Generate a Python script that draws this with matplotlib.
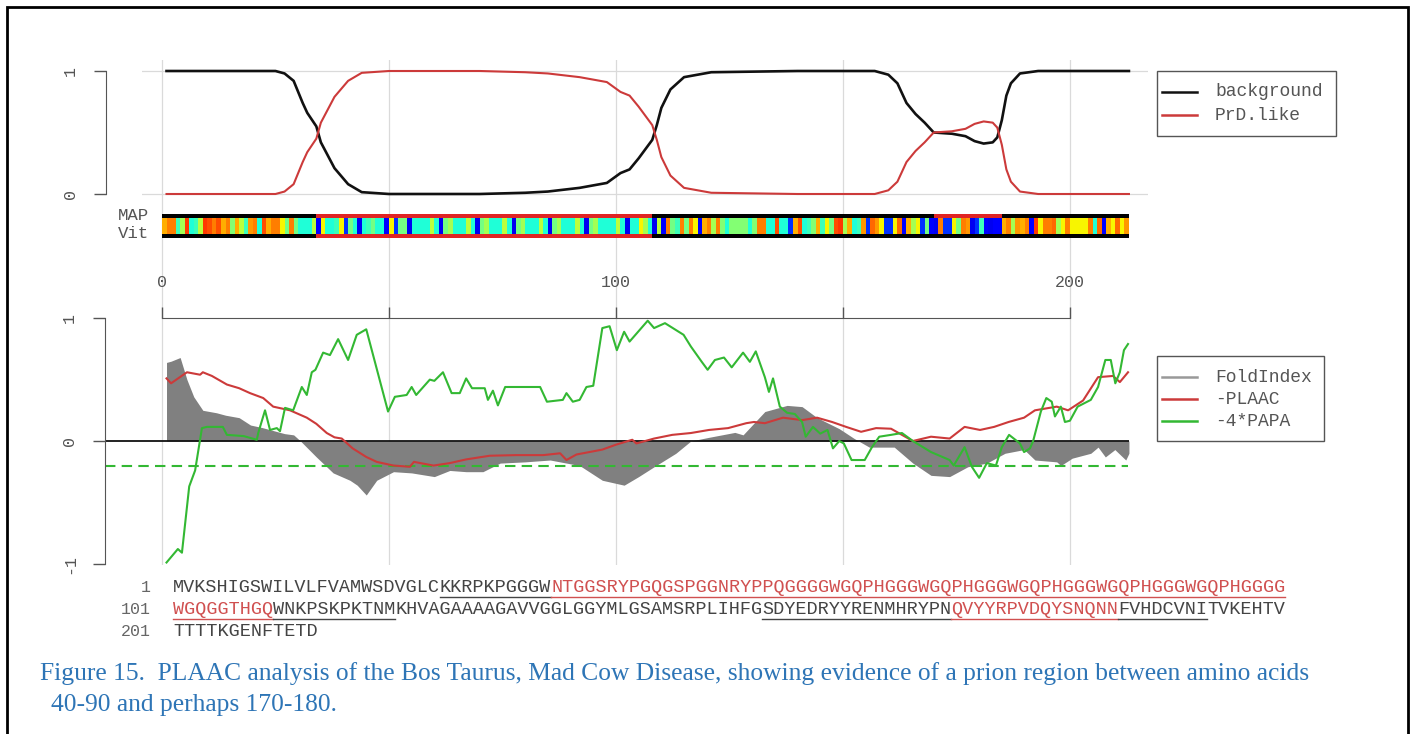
import matplotlib
matplotlib.use('Agg')
import matplotlib.pyplot as plt
import numpy as np
from matplotlib.colors import ListedColormap, Normalize
from matplotlib.lines import Line2D
from matplotlib.patches import Rectangle

plt.rcParams['lines.scale_dashes'] = False

# ---------------- data ----------------
seq_rows = [
    "MVKSHIGSWILVLFVAMWSDVGLCKKRPKPGGGWNTGGSRYPGQGSPGGNRYPPQGGGGWGQPHGGGWGQPHGGGWGQPHGGGWGQPHGGGWGQPHGGGG",
    "WGQGGTHGQWNKPSKPKTNMKHVAGAAAAGAVVGGLGGYMLGSAMSRPLIHFGSDYEDRYYRENMHRYPNQVYYRPVDQYSNQNNFVHDCVNITVKEHTV",
    "TTTTKGENFTETD",
]
row_numbers = ["1", "101", "201"]
red_ranges = [(35, 109), (171, 185)]        # residues shown in red
underline_ranges = [(25, 120), (154, 193)]  # underlined residues
map_prd_ranges = [(35, 108), (171, 185)]    # MAP state = PrD-like
vit_prd_ranges = [(35, 108)]                # Viterbi state = PrD-like

aa_score = {'Q': 0.8, 'N': 0.75, 'Y': 0.65, 'G': 0.22, 'S': 0.15, 'P': 0.02,
            'H': -0.1, 'A': -0.02, 'W': -0.15, 'T': -0.3, 'R': -0.3, 'M': -0.45,
            'F': -0.45, 'C': -0.45, 'D': -0.5, 'K': -0.55, 'E': -0.6, 'V': -0.55,
            'I': -0.7, 'L': -0.65}

top_x = [1, 25, 27, 29, 31, 32, 34, 35, 38, 41, 44, 50, 60, 70, 80, 85, 92, 98, 101, 103,
         105, 108, 109, 110, 112, 115, 121, 140, 157, 160, 162, 164, 166, 168, 170, 174, 177,
         179, 181, 183, 184, 185, 186, 187, 189, 193, 213]
background = [1.0, 1.0, 0.98, 0.92, 0.74, 0.66, 0.55, 0.42, 0.21, 0.08, 0.015, 0.0, 0.0, 0.0,
              0.01, 0.02, 0.05, 0.09, 0.17, 0.2, 0.29, 0.44, 0.56, 0.70, 0.85, 0.95, 0.99, 1.0,
              1.0, 0.97, 0.90, 0.74, 0.65, 0.58, 0.50, 0.49, 0.47, 0.43, 0.41, 0.42, 0.46, 0.60,
              0.80, 0.90, 0.98, 1.0, 1.0]
prd_like = [0.0, 0.0, 0.02, 0.08, 0.26, 0.34, 0.45, 0.58, 0.79, 0.92, 0.985, 1.0, 1.0, 1.0,
            0.99, 0.98, 0.95, 0.91, 0.83, 0.8, 0.71, 0.56, 0.44, 0.30, 0.15, 0.05, 0.01, 0.0,
            0.0, 0.03, 0.10, 0.26, 0.35, 0.42, 0.50, 0.51, 0.53, 0.57, 0.59, 0.58, 0.54, 0.40,
            0.20, 0.10, 0.02, 0.0, 0.0]

fold_x = [1, 2, 4, 5.5, 7, 9, 12, 14, 17, 19.5, 22, 24, 27, 29, 30.5, 34, 37.7, 41.4, 43, 45,
          47.3, 51, 55, 60, 63.4, 67, 70.7, 74.5, 80, 85.5, 92, 97, 101.8, 105, 108.4, 113.2,
          116.5, 120.5, 126.2, 128, 132.8, 137.7, 141, 144.3, 149.2, 152.5, 155.8, 161.3,
          165.4, 169.4, 173.5, 177.5, 181.7, 185.7, 189.9, 192.3, 197.1, 198, 200.5, 204.6,
          206.2, 207.8, 209.9, 212.3, 213]
fold_index = [0.64, 0.65, 0.68, 0.50, 0.36, 0.25, 0.23, 0.21, 0.19, 0.13, 0.11, 0.09, 0.06,
              0.05, 0.0, -0.13, -0.26, -0.32, -0.36, -0.44, -0.32, -0.25, -0.26, -0.29, -0.24,
              -0.25, -0.25, -0.18, -0.17, -0.155, -0.2, -0.32, -0.36, -0.29, -0.21, -0.10, 0.0,
              0.03, 0.07, 0.05, 0.24, 0.29, 0.28, 0.19, 0.10, 0.02, -0.05, -0.05, -0.18, -0.28,
              -0.29, -0.21, -0.18, -0.10, -0.07, -0.155, -0.17, -0.2, -0.14, -0.10, -0.05, -0.13,
              -0.07, -0.155, -0.1]

plaac_x = [1, 2, 5.5, 8.4, 9, 11, 14.3, 17, 19.4, 22.3, 24.5, 28.2, 31.9, 34, 36.3, 38, 39.6,
           42, 45, 47.3, 51, 54.6, 55.5, 59.8, 63.4, 67, 72.2, 78, 84, 87.7, 89.1, 91.3, 97,
           100, 103.6, 104.5, 108.4, 112.4, 116.5, 120.5, 124.7, 128.7, 130.4, 132.8, 136.8,
           141, 144.3, 147.6, 150.7, 154, 157.3, 160.6, 165.4, 169.4, 173.5, 176.8, 180.2,
           183.3, 186.5, 189.9, 192.3, 197.1, 199.6, 202.9, 206.2, 209.5, 211, 212.8]
neg_plaac = [0.51, 0.47, 0.56, 0.54, 0.56, 0.53, 0.46, 0.43, 0.39, 0.35, 0.28, 0.25, 0.19, 0.14,
             0.065, 0.03, 0.02, -0.06, -0.13, -0.17, -0.20, -0.21, -0.17, -0.20, -0.18, -0.15,
             -0.12, -0.115, -0.115, -0.10, -0.155, -0.11, -0.07, -0.03, 0.01, -0.02, 0.02, 0.05,
             0.065, 0.09, 0.105, 0.145, 0.155, 0.145, 0.19, 0.17, 0.19, 0.155, 0.115, 0.075,
             0.105, 0.10, 0.0, 0.035, 0.02, 0.115, 0.09, 0.115, 0.155, 0.19, 0.25, 0.28, 0.25,
             0.33, 0.52, 0.53, 0.48, 0.56]

papa_x = [1, 3.5, 4.4, 6, 7.3, 8.8, 9.9, 13.4, 14.3, 18, 20.9, 21.2, 22.7, 23.8, 25.3, 26, 27.1,
          28.9, 30.8, 31.9, 33, 33.8, 35.5, 37, 38.8, 41, 42.9, 45, 49.8, 51.3, 53.9, 55, 56, 59,
          60, 61.9, 63.8, 65.6, 67, 68.3, 71.1, 71.8, 72.9, 74, 75.6, 83.3, 84.8, 88.3, 89.1,
          90.5, 92, 93.5, 95, 97, 98.6, 100.2, 101.8, 103, 107, 108.4, 110.8, 114.9, 116.5,
          118.9, 120.2, 121.8, 123.8, 125.5, 128, 129.5, 130.8, 132.8, 133.7, 134.6, 136.1,
          137.7, 139.4, 141, 141.8, 143.4, 145, 146.6, 147.8, 149.2, 150.2, 151.9, 154.8, 156.4,
          158, 160.6, 163, 165.4, 169.4, 173.5, 174.4, 176.8, 178.4, 180, 181.7, 183.7, 185,
          186.6, 189, 189.9, 191.2, 191.9, 193.6, 194.8, 196, 196.7, 198, 198.9, 200, 201.7,
          204.6, 206.2, 207.8, 209, 210, 211, 211.9, 212.8]
neg4_papa = [-0.99, -0.88, -0.91, -0.37, -0.24, 0.105, 0.115, 0.115, 0.05, 0.04, 0.01, 0.065,
             0.25, 0.09, 0.105, 0.08, 0.27, 0.25, 0.44, 0.375, 0.56, 0.58, 0.72, 0.70, 0.83, 0.66,
             0.865, 0.91, 0.24, 0.36, 0.375, 0.44, 0.375, 0.5, 0.49, 0.56, 0.39, 0.39, 0.51, 0.43,
             0.43, 0.335, 0.41, 0.29, 0.44, 0.44, 0.32, 0.335, 0.39, 0.32, 0.335, 0.44, 0.45,
             0.92, 0.935, 0.74, 0.89, 0.81, 0.98, 0.92, 0.96, 0.865, 0.77, 0.645, 0.58, 0.66,
             0.68, 0.60, 0.72, 0.645, 0.73, 0.52, 0.40, 0.51, 0.28, 0.23, 0.22, 0.155, 0.035,
             0.115, 0.06, 0.09, -0.06, 0.0, -0.02, -0.155, -0.155, -0.05, 0.035, 0.05, 0.065, 0.0,
             -0.09, -0.155, -0.2, -0.05, -0.21, -0.30, -0.18, -0.2, -0.05, 0.05, -0.02, -0.09,
             -0.06, 0.0, 0.24, 0.35, 0.32, 0.2, 0.28, 0.155, 0.165, 0.28, 0.335, 0.44, 0.66,
             0.66, 0.47, 0.56, 0.74, 0.79]
papa_threshold = -0.2

axis_ticks = [0, 50, 100, 150, 200]
axis_labels = ['0', '', '100', '', '200']

caption_lines = [
    "Figure 15.  PLAAC analysis of the Bos Taurus, Mad Cow Disease, showing evidence of a prion region between amino acids",
    "40-90 and perhaps 170-180.",
]

# ---------------- layout helpers ----------------
W, H = 1413, 734
fig = plt.figure(figsize=(W / 100, H / 100), dpi=100)
fig.patch.set_facecolor('white')


def fx(px):
    return px / W


def fy(py):
    return 1 - py / H


def axrect(l, t, r, b):
    return [fx(l), fy(b), (r - l) / W, (b - t) / H]


XL, XR = 142, 1148
XMIN, XMAX = -4.4, 217.2
GRID = '#dadada'
AXC = '#555555'
TXT = '#555555'
MONO = 'Liberation Mono'
RED = '#CC3A3A'
GREEN = '#33B833'

seq = "".join(seq_rows)
n = len(seq)


def in_ranges(i, ranges):
    return any(a <= i <= b for a, b in ranges)


# vertical grid lines spanning all panels
gax = fig.add_axes(axrect(XL, 60, XR, 565))
gax.set_xlim(XMIN, XMAX)
gax.set_ylim(0, 1)
gax.axis('off')
for v in axis_ticks:
    gax.axvline(v, color=GRID, lw=0.9)

# ---------------- top panel ----------------
tax = fig.add_axes(axrect(XL, 60, XR, 205))
tax.set_facecolor('none')
tax.set_xlim(XMIN, XMAX)
tax.set_ylim(-11 / 123, 1 + 11 / 123)
tax.axhline(0, color=GRID, lw=0.9)
tax.axhline(1, color=GRID, lw=0.9)
tax.plot(top_x, background, color='#111111', lw=1.9)
tax.plot(top_x, prd_like, color=RED, lw=1.5)
for s in ['top', 'right', 'bottom']:
    tax.spines[s].set_visible(False)
tax.spines['left'].set_position(('axes', (106 - XL) / (XR - XL)))
tax.spines['left'].set_bounds(0, 1)
tax.spines['left'].set_color(AXC)
tax.set_xticks([])
tax.set_yticks([0, 1])
tax.set_yticklabels(['0', '1'], rotation=90, va='center', fontfamily=MONO, fontsize=12, color=TXT)
tax.tick_params(axis='y', direction='out', length=9, width=1, color=AXC, pad=11)

# ---------------- MAP / Vit bar ----------------
bax = fig.add_axes(axrect(XL, 214, XR, 238))
bax.set_xlim(XMIN, XMAX)
bax.set_ylim(0, 1)
bax.axis('off')
edges = np.arange(0, n + 1)
map_state = np.array([1 if in_ranges(i, map_prd_ranges) else 0 for i in range(1, n + 1)])
vit_state = np.array([1 if in_ranges(i, vit_prd_ranges) else 0 for i in range(1, n + 1)])
bax.pcolormesh(edges, [0, 0.5, 1], np.vstack([vit_state, map_state]),
               cmap=ListedColormap(['#000000', '#E02424']), vmin=0, vmax=1, shading='flat')
scores = np.array([[aa_score[c] for c in seq]])
bax.pcolormesh(edges, [0.17, 0.83], scores, cmap='jet_r', norm=Normalize(-1, 1), shading='flat')
fig.text(fx(149), fy(215.5), 'MAP', ha='right', va='center', fontfamily=MONO, fontsize=12.5, color=TXT)
fig.text(fx(149), fy(233.5), 'Vit', ha='right', va='center', fontfamily=MONO, fontsize=12.5, color=TXT)

# ---------------- bottom panel ----------------
lax = fig.add_axes(axrect(XL, 300, XR, 575))
lax.set_facecolor('none')
lax.set_xlim(XMIN, XMAX)
lax.set_ylim(-1 - 11.25 / 122.75, 1 + 18.25 / 122.75)
lax.fill_between(fold_x, fold_index, 0, color='#808080', lw=0, label='FoldIndex')
x_left = (105 - 162) / 4.54
lax.hlines(0, x_left, max(fold_x), colors='#111111', lw=1.3, clip_on=False)
lax.hlines(papa_threshold, x_left, max(papa_x), colors=GREEN, lw=1.5,
           linestyles=[(0, (7.5, 4.5))], clip_on=False)
lax.plot(plaac_x, neg_plaac, color=RED, lw=1.5)
lax.plot(papa_x, neg4_papa, color=GREEN, lw=1.5)
for s in ['right', 'bottom']:
    lax.spines[s].set_visible(False)
lax.spines['left'].set_position(('axes', (105 - XL) / (XR - XL)))
lax.spines['left'].set_bounds(-1, 1)
lax.spines['left'].set_color(AXC)
lax.spines['top'].set_position(('data', 1.0))
lax.spines['top'].set_bounds(0, 200)
lax.spines['top'].set_color(AXC)
lax.xaxis.set_ticks_position('top')
lax.set_xticks(axis_ticks)
lax.set_xticklabels(axis_labels, fontfamily=MONO, fontsize=12, color=TXT)
lax.tick_params(axis='x', direction='out', length=8, width=1, color=AXC, pad=12)
lax.set_yticks([-1, 0, 1])
lax.set_yticklabels(['-1', '0', '1'], rotation=90, va='center', fontfamily=MONO, fontsize=12, color=TXT)
lax.tick_params(axis='y', direction='out', length=9, width=1, color=AXC, pad=11)


# ---------------- legends (drawn in figure pixels) ----------------
def draw_legend(box, entries):
    l, t, r, b = box
    fig.add_artist(Rectangle((fx(l), fy(b)), (r - l) / W, (b - t) / H, transform=fig.transFigure,
                             fill=False, ec=AXC, lw=1))
    for label, color, py in entries:
        fig.add_artist(Line2D([fx(1162), fx(1197)], [fy(py), fy(py)], transform=fig.transFigure,
                              color=color, lw=1.8))
        fig.text(fx(1215), fy(py), label, ha='left', va='center', fontfamily=MONO,
                 fontsize=13, color=TXT)


draw_legend((1157, 71, 1336, 136), [('background', '#111111', 92), ('PrD.like', RED, 115)])
draw_legend((1157, 356, 1324, 441), [('FoldIndex', '#999999', 377), ('-PLAAC', RED, 399),
                                     ('-4*PAPA', GREEN, 421)])

# ---------------- sequence ----------------
CH = 11.12
SX = 173
row_y = [587, 609, 631]
for r, row in enumerate(seq_rows):
    py = row_y[r]
    fig.text(fx(151), fy(py), row_numbers[r], ha='right', va='center', fontfamily=MONO,
             fontsize=12, color='#666666')
    start = r * 100
    runs = []
    for k, c in enumerate(row):
        pos = start + k + 1
        key = (in_ranges(pos, red_ranges), in_ranges(pos, underline_ranges))
        if runs and runs[-1][0] == key:
            runs[-1][2] += c
        else:
            runs.append([key, k, c])
    for (is_red, is_ul), k0, text in runs:
        col = '#D05050' if is_red else '#444444'
        fig.text(fx(SX + k0 * CH), fy(py), text, ha='left', va='center', fontfamily=MONO,
                 fontsize=13.34, color=col)
        if is_ul:
            fig.add_artist(Line2D([fx(SX + k0 * CH), fx(SX + (k0 + len(text)) * CH)],
                                  [fy(py + 10), fy(py + 10)], transform=fig.transFigure,
                                  color=col, lw=1.0))

# ---------------- caption ----------------
fig.text(fx(40), fy(674), caption_lines[0], ha='left', va='center', fontfamily='Liberation Serif',
         fontsize=18.4, color='#2E75B6')
fig.text(fx(51), fy(705), caption_lines[1], ha='left', va='center', fontfamily='Liberation Serif',
         fontsize=18.4, color='#2E75B6')

# outer frame
fig.add_artist(Rectangle((fx(7), fy(770)), (1408 - 7) / W, (770 - 7) / H, transform=fig.transFigure,
                         fill=False, ec='black', lw=2, clip_on=False))

fig.savefig('out.png', dpi=100)
